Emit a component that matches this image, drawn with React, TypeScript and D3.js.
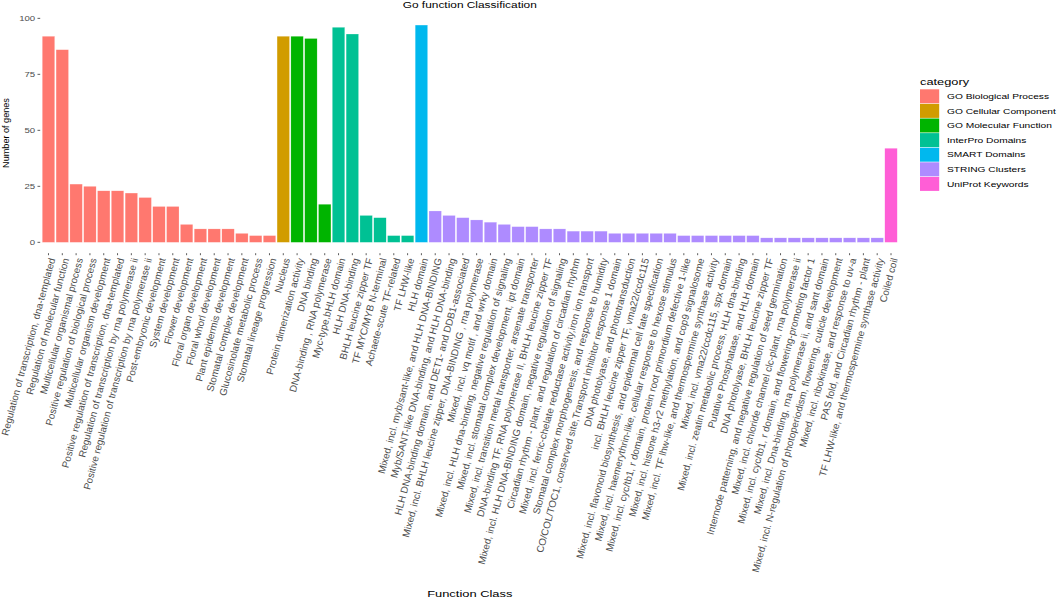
import React from "react";
import * as d3 from "d3";

const categoryNames = [
  "GO Biological Process",
  "GO Cellular Component",
  "GO Molecular Function",
  "InterPro Domains",
  "SMART Domains",
  "STRING Clusters",
  "UniProt Keywords",
];
const categoryColors = ["#FF786F", "#D19C00", "#00B400", "#00C194", "#00B8EE", "#AE8BFF", "#FF5ED6"];

const bpLabels = [
  "Regulation of transcription, dna-templated",
  "Regulation of molecular function",
  "Multicellular organismal process",
  "Positive regulation of biological process",
  "Multicellular organism development",
  "Positive regulation of transcription, dna-templated",
  "Regulation of transcription by rna polymerase ii",
  "Positive regulation of transcription by rna polymerase ii",
  "Post-embryonic development",
  "System development",
  "Flower development",
  "Floral organ development",
  "Floral whorl development",
  "Plant epidermis development",
  "Stomatal complex development",
  "Glucosinolate metabolic process",
  "Stomatal lineage progression",
];
const bpValues = [92, 86, 26, 25, 23, 23, 22, 20, 16, 16, 8, 6, 6, 6, 4, 3, 3];

const ccLabels = ["Nucleus"];
const ccValues = [92];

const mfLabels = ["Protein dimerization activity", "DNA binding", "DNA-binding , RNA polymerase"];
const mfValues = [92, 91, 17];

const ipLabels = [
  "Myc-type,bHLH domain",
  "HLH DNA-binding",
  "BHLH leucine zipper TF",
  "TF MYC/MYB N-terminal",
  "Achaete-scute TF-related",
  "TF LHW-like",
];
const ipValues = [96, 93, 12, 11, 3, 3];

const smartLabels = ["HLH domain"];
const smartValues = [97];

const stringLabels = [
  "Mixed, incl. myb/sant-like, and HLH DNA-BINDING",
  "Myb/SANT-like DNA-binding, and HLH DNA-binding",
  "HLH DNA-binding domain, and DET1- and DDB1-associated",
  "Mixed, incl. BHLH leucine zipper, DNA-BINDING , rna polymerase",
  "Mixed, incl. vq motif , and wrky domain",
  "Mixed, incl. HLH dna-binding, negative regulation of signaling",
  "Mixed, incl. stomatal complex development, ipt domain",
  "Mixed, incl. transition metal transporter, arsenate transporter",
  "DNA-binding TF, RNA polymerase II, BHLH leucine zipper TF",
  "Mixed, incl. HLH DNA-BINDING domain, negative regulation of signaling",
  "Circadian rhythm - plant, and regulation of circadian rhythm",
  "Mixed, incl. ferric-chelate reductase activity,iron ion transport",
  "Stomatal complex morphogenesis, and response to humidity",
  "CO/COL/TOC1, conserved site,Transport inhibitor response 1 domain",
  "DNA photolyase, and phototransduction",
  "incl. BHLH leucine zipper TF, vma22/ccdc115",
  "Mixed, incl. flavonoid biosynthesis, and epidermal cell fate specification",
  "Mixed, incl. haemerythrin-like, cellular response to hexose stimulus",
  "Mixed, incl. cyc/tb1, r domain, protein root primordium defective 1-like",
  "Mixed, incl. histone h3-r2 methylation, and cop9 signalosome",
  "Mixed, incl. TF lhw-like, and thermospermine synthase activity",
  "Mixed, incl. vma22/ccdc115, spx domain",
  "Mixed, incl. zeatin metabolic process, HLH dna-binding",
  "Putative Phosphatase, and HLH domain",
  "DNA photolyase, BHLH leucine zipper TF",
  "Internode patterning, and negative regulation of seed germination",
  "Mixed, incl. chloride channel clc-plant, rna polymerase ii",
  "Mixed, incl. cyc/tb1, r domain, and flowering-promoting factor 1",
  "Mixed, incl. Dna-binding, rna polymerase ii, and sant domain",
  "Mixed, incl. N-regulation of photoperiodism, flowering, cuticle development",
  "Mixed, incl. ribokinase, and response to uv-a",
  "PAS fold, and Circadian rhythm - plant",
  "TF LHW-like, and thermospermine synthase activity",
];
const stringValues = [14, 12, 11, 10, 9, 8, 7, 7, 6, 6, 5, 5, 5, 4, 4, 4, 4, 4, 3, 3, 3, 3, 3, 3, 2, 2, 2, 2, 2, 2, 2, 2, 2];

const uniprotLabels = ["Coiled coil"];
const uniprotValues = [42];

const yTicks = [0, 25, 50, 75, 100];

const groups = [
  { labels: bpLabels, values: bpValues },
  { labels: ccLabels, values: ccValues },
  { labels: mfLabels, values: mfValues },
  { labels: ipLabels, values: ipValues },
  { labels: smartLabels, values: smartValues },
  { labels: stringLabels, values: stringValues },
  { labels: uniprotLabels, values: uniprotValues },
];

type Row = { key: string; label: string; value: number; cat: number };
const rows: Row[] = [];
groups.forEach((g, ci) => {
  g.labels.forEach((l, i) => rows.push({ key: ci + "_" + i, label: l, value: g.values[i], cat: ci }));
});

const W = 1059;
const H = 599;
const FONT = "'Liberation Sans', Arial, Helvetica, sans-serif";

export default function App() {
  const panelLeft = 40.2;
  const panelRight = 899.3;
  const maxV = d3.max(rows, (r) => r.value) as number;
  const ex = maxV * 0.05;
  const y = d3.scaleLinear().domain([-ex, maxV + ex]).range([253.2, 14.2]);
  const x = d3
    .scaleBand<string>()
    .domain(rows.map((r) => r.key))
    .range([panelLeft, panelRight])
    .paddingInner(0.1)
    .paddingOuter(0.15);
  const color = d3.scaleOrdinal<number, string>().domain(d3.range(7)).range(categoryColors);
  const panelBottom = y(-ex);
  const sy = 0.74;

  return (
    <svg
      width={W}
      height={H}
      viewBox={`0 0 ${W} ${H}`}
      style={{ position: "absolute", left: 0, top: 0, background: "#fff" }}
      fontFamily={FONT}
    >
      <rect x={0} y={0} width={W} height={H} fill="#fff" />
      <text
        transform={`translate(${(panelLeft + panelRight) / 2},8.3) scale(1,${sy})`}
        textAnchor="middle"
        fontSize={11.9}
        fill="#000"
      >
        Go function Classification
      </text>
      {rows.map((r) => (
        <rect
          key={r.key}
          x={x(r.key)}
          y={y(r.value)}
          width={x.bandwidth()}
          height={y(0) - y(r.value)}
          fill={color(r.cat)}
          stroke="#ffffff"
          strokeOpacity={0.5}
          strokeWidth={0.4}
        />
      ))}
      {yTicks.map((t) => (
        <g key={t}>
          <line x1={panelLeft - 2.7} x2={panelLeft} y1={y(t)} y2={y(t)} stroke="#333" strokeWidth={0.8} />
          <text
            transform={`translate(${panelLeft - 5},${y(t)}) scale(1,${sy})`}
            textAnchor="end"
            dy="0.35em"
            fontSize={9.6}
            fill="#4d4d4d"
          >
            {t}
          </text>
        </g>
      ))}
      <text transform={`translate(9,133) rotate(-90)`} textAnchor="middle" fontSize={9.1} fill="#000">
        Number of genes
      </text>
      {rows.map((r) => {
        const cx = (x(r.key) as number) + x.bandwidth() / 2;
        return (
          <g key={"t" + r.key}>
            <line x1={cx} x2={cx} y1={panelBottom} y2={panelBottom + 2} stroke="#333" strokeWidth={0.8} />
            <text
              transform={`translate(${cx + 3.5},${panelBottom + 5}) rotate(-75)`}
              textAnchor="end"
              dy="0.35em"
              fontSize={9.9}
              fill="#4d4d4d"
            >
              {r.label}
            </text>
          </g>
        );
      })}
      <text
        transform={`translate(${(panelLeft + panelRight) / 2},597.3) scale(1,${sy})`}
        textAnchor="middle"
        fontSize={12.9}
        fill="#000"
      >
        Function Class
      </text>
      <text transform={`translate(920,84.5) scale(1,${sy})`} fontSize={12.8} fill="#000">
        category
      </text>
      {categoryNames.map((n, i) => {
        const cy = 96.3 + i * 14.6;
        return (
          <g key={n}>
            <rect x={920} y={cy - 7} width={19.2} height={14} fill={color(i)} />
            <text transform={`translate(947,${cy}) scale(1,${sy})`} dy="0.35em" fontSize={10.2} fill="#000">
              {n}
            </text>
          </g>
        );
      })}
    </svg>
  );
}
